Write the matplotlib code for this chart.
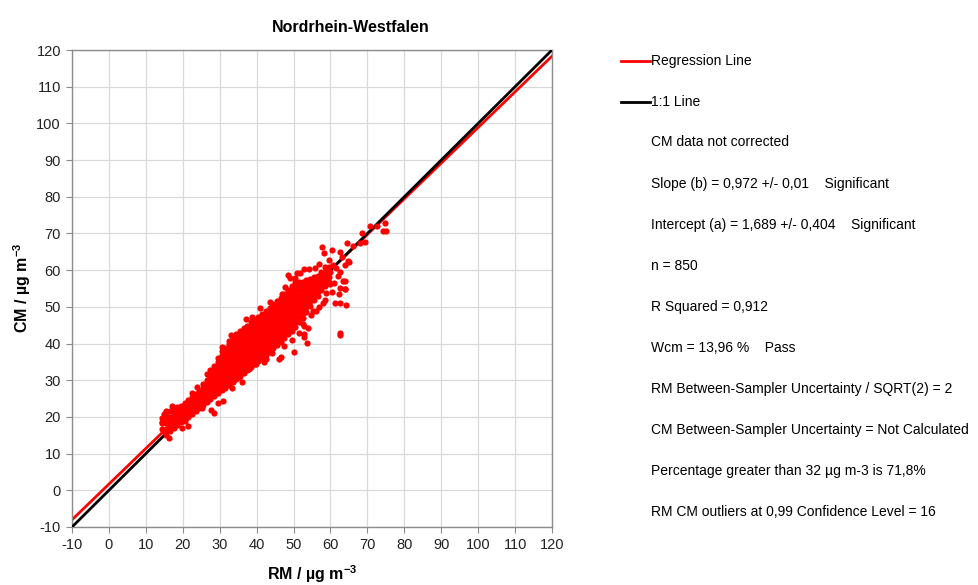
import matplotlib
matplotlib.use('Agg')
import matplotlib.pyplot as plt
from matplotlib.lines import Line2D

plt.rcParams['font.family'] = ['Liberation Sans', 'DejaVu Sans']
plt.rcParams['axes.unicode_minus'] = False
plt.rcParams['mathtext.fontset'] = 'custom'
plt.rcParams['mathtext.rm'] = 'Liberation Sans'
plt.rcParams['mathtext.bf'] = 'Liberation Sans:bold'

# dense part of the cloud, read column by column (RM value -> CM values)
rm_cols = [14.5, 15.5, 16.5, 17.5, 18.5, 19.5, 20.5, 21.5, 22.5, 23.5, 24.5,
           25.5, 26.5, 27.5, 28.5, 29.5, 30.5, 31.5, 32.5, 33.5, 34.5, 35.5,
           36.5, 37.5, 38.5, 39.5, 40.5, 41.5, 42.5, 43.5, 44.5, 45.5, 46.5,
           47.5, 48.5, 49.5, 50.5, 51.5, 52.5, 53.5, 54.5, 55.5, 56.5, 57.5,
           58.5, 59.5]
cm_cols = [
    [16.8, 18.4, 19.6],
    [15.0, 16.8, 18.3, 19.6, 21.0],
    [16.2, 17.6, 18.9, 20.1, 21.5],
    [16.9, 18.2, 19.4, 20.6, 21.9],
    [17.8, 19.0, 20.2, 21.3, 22.6],
    [18.5, 19.7, 20.8, 22.0, 23.1],
    [19.0, 20.3, 21.5, 22.6, 23.8],
    [19.9, 21.1, 22.3, 23.4, 24.5],
    [20.8, 22.0, 23.1, 24.2, 25.4],
    [21.6, 22.9, 24.0, 25.1, 26.2],
    [22.5, 23.7, 24.8, 25.9, 27.1],
    [23.2, 24.5, 25.7, 26.8, 27.9, 29.0],
    [24.0, 25.3, 26.5, 27.7, 28.8, 30.0],
    [24.8, 26.1, 27.3, 28.5, 29.7, 30.9, 32.0],
    [25.6, 26.8, 28.0, 29.2, 30.4, 31.6, 32.8, 33.9],
    [26.4, 27.6, 28.9, 30.1, 31.3, 32.5, 33.7, 34.9, 36.0],
    [27.3, 28.5, 29.7, 30.9, 32.1, 33.3, 34.5, 35.7, 36.9, 38.0],
    [28.0, 29.3, 30.5, 31.7, 32.9, 34.1, 35.3, 36.5, 37.7, 38.9],
    [28.8, 30.1, 31.4, 32.6, 33.8, 35.0, 36.2, 37.4, 38.6, 39.8, 40.8],
    [29.6, 30.9, 32.2, 33.4, 34.6, 35.8, 37.0, 38.2, 39.4, 40.6, 41.6],
    [30.3, 31.6, 32.9, 34.1, 35.3, 36.5, 37.7, 38.9, 40.1, 41.3, 42.5],
    [31.1, 32.4, 33.7, 34.9, 36.1, 37.3, 38.5, 39.7, 40.9, 42.1, 43.3],
    [31.9, 33.2, 34.5, 35.7, 36.9, 38.1, 39.3, 40.5, 41.7, 42.9, 44.1],
    [32.8, 34.1, 35.3, 36.5, 37.7, 38.9, 40.1, 41.3, 42.5, 43.7, 44.9],
    [33.6, 34.9, 36.2, 37.4, 38.6, 39.8, 41.0, 42.2, 43.4, 44.6, 45.8],
    [34.4, 35.7, 37.0, 38.2, 39.4, 40.6, 41.8, 43.0, 44.2, 45.4, 46.5],
    [35.3, 36.6, 37.8, 39.0, 40.2, 41.4, 42.6, 43.8, 45.0, 46.2, 47.3],
    [36.1, 37.4, 38.7, 39.9, 41.1, 42.3, 43.5, 44.7, 45.9, 47.1, 48.0],
    [36.9, 38.2, 39.5, 40.7, 41.9, 43.1, 44.3, 45.5, 46.7, 47.9, 48.9],
    [37.8, 39.1, 40.3, 41.5, 42.7, 43.9, 45.1, 46.3, 47.5, 48.7, 49.7],
    [38.7, 40.0, 41.2, 42.4, 43.6, 44.8, 46.0, 47.2, 48.4, 49.6, 50.6],
    [39.6, 40.9, 42.1, 43.3, 44.5, 45.7, 46.9, 48.1, 49.3, 50.5, 51.5],
    [40.5, 41.8, 43.0, 44.2, 45.4, 46.6, 47.8, 49.0, 50.2, 51.4, 52.4],
    [41.4, 42.7, 43.9, 45.1, 46.3, 47.5, 48.7, 49.9, 51.1, 52.3, 53.4],
    [42.5, 43.8, 45.0, 46.2, 47.4, 48.6, 49.8, 51.0, 52.2, 53.4, 54.5],
    [43.5, 44.8, 46.0, 47.2, 48.4, 49.6, 50.8, 52.0, 53.2, 54.4, 55.6],
    [44.6, 46.0, 47.3, 48.5, 49.7, 50.9, 52.1, 53.3, 54.5, 55.7, 56.8],
    [45.8, 47.2, 48.5, 49.7, 50.9, 52.1, 53.3, 54.5, 55.7, 56.9],
    [47.0, 48.4, 49.7, 50.9, 52.1, 53.3, 54.5, 55.7, 56.9],
    [48.6, 50.0, 51.3, 52.5, 53.7, 54.9, 56.1, 57.3],
    [50.2, 51.5, 52.8, 54.0, 55.2, 56.4, 57.6],
    [51.8, 53.1, 54.4, 55.6, 56.8, 58.0],
    [53.0, 54.4, 55.7, 57.0, 58.3],
    [54.5, 55.8, 57.1, 58.4, 59.6],
    [55.7, 57.0, 58.3, 59.6, 60.8],
    [56.8, 58.2, 59.5, 60.8],
]

# scattered points around the edges
rm_out = [16.2, 15.0, 14.3, 15.4, 21.4, 21.2, 28.4, 27.6, 29.5, 30.9, 27.5,
          26.6, 33.4, 36.1, 41.9, 46.0, 46.5, 50.1, 52.8, 52.8, 53.6, 52.9,
          54.0, 52.5, 54.8, 55.3, 62.7, 62.7, 62.5, 62.0, 63.5, 62.5, 63.9,
          62.3, 61.2, 62.5, 64.1, 59.8, 57.9, 58.9, 64.0, 64.0, 57.8, 58.2,
          60.3, 62.5, 59.6, 64.8, 63.9, 60.7, 56.9, 55.7, 54.2, 51.8, 48.5,
          50.3, 64.6, 64.9, 68.6, 69.4, 70.7, 72.5, 75.1, 74.2, 68.0, 74.8,
          30.7, 33.0, 37.0, 38.8, 41.0, 43.5, 44.2, 46.9, 47.8, 49.0, 35.2,
          38.0, 39.7, 42.5, 44.2, 47.5, 49.6, 51.5, 56.0, 57.0, 58.5, 60.5,
          59.0, 61.0, 60.0, 61.5, 63.0, 51.0, 52.7, 66.0, 14.8, 17.2, 19.8,
          23.9, 25.2, 22.4]
cm_out = [14.3, 16.2, 18.6, 21.6, 17.6, 20.0, 21.2, 21.8, 23.9, 24.4, 32.8,
          31.6, 27.8, 29.6, 35.1, 35.9, 36.4, 37.7, 41.8, 44.7, 40.1, 42.5,
          44.3, 45.2, 47.9, 48.8, 42.9, 42.2, 59.6, 58.4, 57.0, 55.2, 55.0,
          53.5, 51.1, 51.1, 50.6, 56.1, 51.1, 53.7, 57.0, 54.9, 66.3, 64.7,
          65.6, 65.0, 62.7, 62.5, 61.5, 61.5, 61.8, 60.6, 60.2, 59.3, 58.8,
          57.9, 67.3, 62.2, 70.0, 67.6, 72.0, 72.0, 70.8, 70.6, 67.3, 72.8,
          39.1, 42.4, 46.8, 47.3, 49.6, 51.4, 50.9, 53.6, 55.5, 57.8, 30.9,
          33.0, 34.5, 35.8, 37.3, 39.3, 40.9, 43.0, 49.0, 50.0, 52.0, 54.0,
          57.5, 56.5, 59.5, 60.5, 63.5, 59.2, 60.3, 66.5, 20.9, 23.0, 17.0,
          28.2, 22.3, 26.6]

slope = 0.972
intercept = 1.689
line_x = [-10, 120]

info_lines = [
    'CM data not corrected',
    'Slope (b) = 0,972 +/- 0,01    Significant',
    'Intercept (a) = 1,689 +/- 0,404    Significant',
    'n = 850',
    'R Squared = 0,912',
    'Wcm = 13,96 %    Pass',
    'RM Between-Sampler Uncertainty / SQRT(2) = 2',
    'CM Between-Sampler Uncertainty = Not Calculated',
    'Percentage greater than 32 \u00b5g m-3 is 71,8%',
    'RM CM outliers at 0,99 Confidence Level = 16',
]

rm = []
cm = []
for x, ys in zip(rm_cols, cm_cols):
    for y in ys:
        rm.append(x)
        cm.append(y)
rm += rm_out
cm += cm_out

W, H = 979, 585
fig = plt.figure(figsize=(W / 100, H / 100), dpi=100)
ax = fig.add_axes([72 / W, 1 - 527 / H, 480 / W, 477 / H])

ax.plot(line_x, [slope * v + intercept for v in line_x], color='#ff0000', lw=2, zorder=2)
ax.plot(line_x, line_x, color='black', lw=2, zorder=3)
ax.scatter(rm, cm, s=20, color='#ff0000', linewidths=0, zorder=4)

ax.set_xlim(-10, 120)
ax.set_ylim(-10, 120)
ax.set_xticks(range(-10, 121, 10))
ax.set_yticks(range(-10, 121, 10))
ax.grid(True, color='#d9d9d9', lw=0.9)
ax.set_axisbelow(True)
for s in ax.spines.values():
    s.set_color('#8c8c8c')
    s.set_linewidth(1.0)
ax.tick_params(direction='out', length=4, color='#8c8c8c', labelsize=10.5,
               labelcolor='#222222', pad=4)

fig.text(312 / W, 1 - 574 / H, r'RM / µg m$^{\mathbf{-3}}$', fontsize=11.5,
         fontweight='bold', ha='center', va='center')
fig.text(22 / W, 1 - 288 / H, r'CM / µg m$^{\mathbf{-3}}$', fontsize=11.5,
         fontweight='bold', ha='center', va='center', rotation=90)
fig.text(351 / W, 1 - 27 / H, 'Nordrhein-Westfalen', fontsize=11.5, fontweight='bold',
         ha='center', va='center')

# legend and statistics text at the right
fig.add_artist(Line2D([621 / W, 650 / W], [1 - 61 / H, 1 - 61 / H], color='#ff0000', lw=2))
fig.text(651 / W, 1 - 61 / H, 'Regression Line', fontsize=10, va='center')
fig.add_artist(Line2D([621 / W, 650 / W], [1 - 102 / H, 1 - 102 / H], color='black', lw=2))
fig.text(651 / W, 1 - 102 / H, '1:1 Line', fontsize=10, va='center')
for i, t in enumerate(info_lines):
    fig.text(651 / W, 1 - (142.5 + i * 41.1) / H, t, fontsize=10, va='center')

fig.savefig('out.png', dpi=100)
